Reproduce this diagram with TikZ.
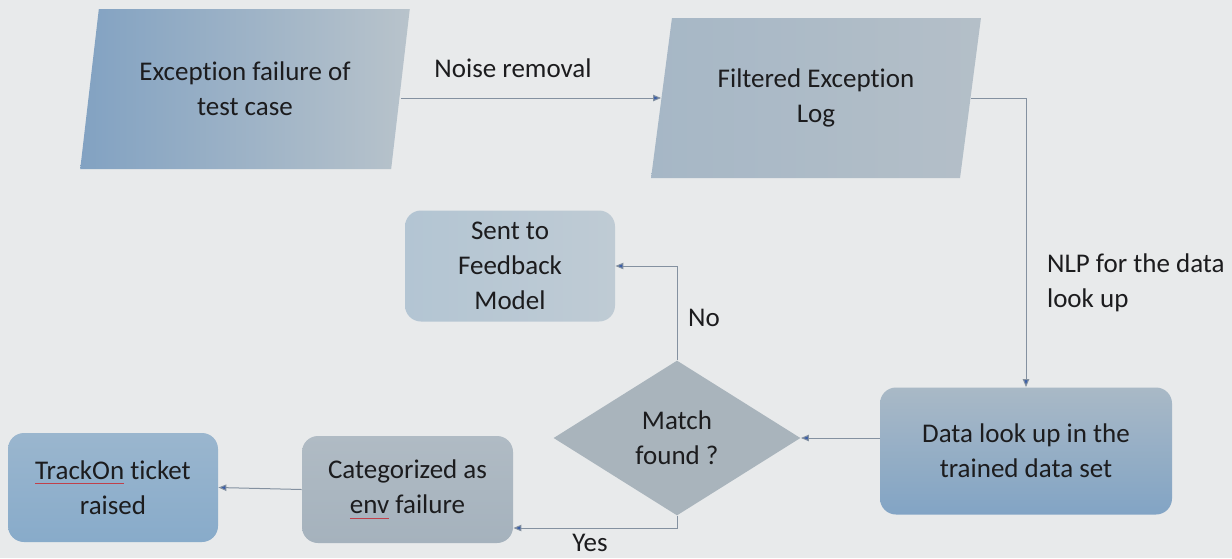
\documentclass[tikz,border=0pt]{standalone}
\usepackage{fontspec}
\setmainfont{Carlito}[Ligatures=NoCommon]
\usetikzlibrary{arrows.meta, positioning, shapes.geometric}

\definecolor{bgpaper}{HTML}{E8EAEB}
\definecolor{linkgray}{HTML}{8491A0}
\definecolor{tipblue}{HTML}{3A5EA8}
\definecolor{inkdark}{HTML}{1C1C1E}
\definecolor{spellred}{HTML}{C0404A}
\definecolor{excleft}{HTML}{82A2C2}
\definecolor{excright}{HTML}{B8C3CB}
\definecolor{filtleft}{HTML}{A6B7C6}
\definecolor{filtright}{HTML}{B4BFC8}
\definecolor{datatop}{HTML}{A9B9C6}
\definecolor{databot}{HTML}{82A4C5}
\definecolor{fbleft}{HTML}{B3C5D3}
\definecolor{fbright}{HTML}{BFCBD4}
\definecolor{cattop}{HTML}{B0BBC4}
\definecolor{catbot}{HTML}{A5B2BD}
\definecolor{tracktop}{HTML}{9AB6CE}
\definecolor{trackbot}{HTML}{88ABCA}
\definecolor{decfill}{HTML}{A9B4BC}

% red spell-check mark under a word
\newcommand{\spellmark}[1]{\setbox0\hbox{#1}\rlap{\color{spellred}\rule[-2.6pt]{\wd0}{0.6pt}}\box0\relax}

\begin{document}
\begin{tikzpicture}[x=0.5pt, y=-0.5pt,
    iobox/.style={trapezium, trapezium left angle=78, trapezium right angle=102,
        trapezium stretches=true, minimum width=165pt, minimum height=80pt,
        align=center, text=inkdark, font=\fontsize{13.5}{17.5}\selectfont},
    stepbox/.style={rectangle, rounded corners=8pt, align=center, text=inkdark,
        font=\fontsize{13.5}{17.5}\selectfont},
    decbox/.style={diamond, aspect=1.6, inner sep=0pt, minimum width=123.5pt,
        minimum height=77.5pt, fill=decfill, align=center, text=inkdark,
        font=\fontsize{13.5}{17.5}\selectfont},
    link/.style={draw=linkgray, line width=0.5pt,
        -{Triangle[length=4pt, width=3.2pt, fill=tipblue]}},
    tag/.style={text=inkdark, font=\fontsize{13.5}{17.5}\selectfont, align=left}
]
\useasboundingbox[fill=bgpaper] (0,0) rectangle (1232,558);

% input / output shapes
\node[iobox, left color=excleft, right color=excright] at (245,89) (exc) {Exception failure of\\test case};
\node[iobox, left color=filtleft, right color=filtright] at (816,98) (filt) {Filtered Exception\\Log};

% process boxes
\node[stepbox, minimum width=146pt, minimum height=63.5pt, shading angle=45,
    top color=datatop, bottom color=databot] at (1026,451) (data) {Data look up in the\\trained data set};
\node[decbox] at (677,438) (dec) {Match\\found ?};
\node[stepbox, minimum width=105pt, minimum height=55.5pt,
    left color=fbleft, right color=fbright] at (510,266) (fb) {Sent to\\Feedback\\Model};
\node[stepbox, minimum width=105.5pt, minimum height=53.5pt,
    top color=cattop, bottom color=catbot] at (407.5,489.5) (cat) {Categorized as\\\spellmark{env} failure};
\node[stepbox, minimum width=105pt, minimum height=54.5pt,
    top color=tracktop, bottom color=trackbot] at (113,487.5) (track) {\spellmark{TrackOn} ticket\\raised};

% connectors
\draw[link] (exc.east |- filt.west) -- (filt.west);
\node[tag] at (513,68) (noise) {Noise removal};

\draw[link] (filt.east) -| (data.north);
\node[tag, anchor=west] at (1040,283) (nlp) {NLP for the data\\look up};

\draw[link] (data.west |- dec.east) -- (dec.east);

\draw[link] (dec.north) |- (fb.east);
\node[tag] at (704,318) (no) {No};

\draw[link] (dec.south) |- (cat.east |- 0,528);
\node[tag] at (590,543) (yes) {Yes};

\draw[link] (cat.west) -- (track.east);
\end{tikzpicture}
\end{document}
